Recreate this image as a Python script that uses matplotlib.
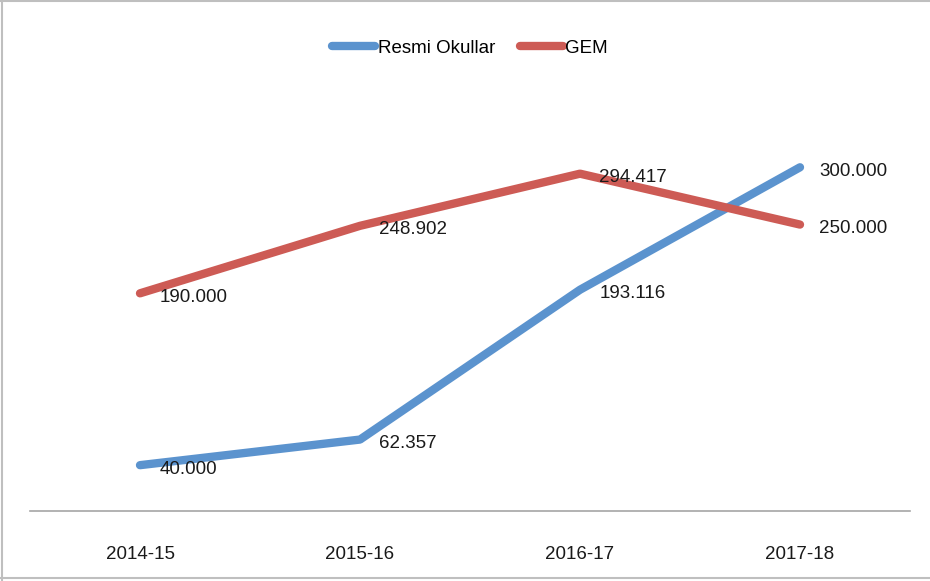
import matplotlib
matplotlib.use("Agg")
import matplotlib.pyplot as plt
from matplotlib import font_manager
from matplotlib.lines import Line2D

categories = ["2014-15", "2015-16", "2016-17", "2017-18"]
resmi = [40000, 62357, 193116, 300000]
gem = [190000, 248902, 294417, 250000]
resmi_labels = ["40.000", "62.357", "193.116", "300.000"]
gem_labels = ["190.000", "248.902", "294.417", "250.000"]

avail = {f.name for f in font_manager.fontManager.ttflist}
fam = "Liberation Sans Narrow" if "Liberation Sans Narrow" in avail else "Liberation Sans"
plt.rcParams['font.family'] = [fam, 'DejaVu Sans']
fs = 13.5

W, H = 930, 581
fig = plt.figure(figsize=(W / 100, H / 100), dpi=100)
ax = fig.add_axes([30 / W, (H - 511) / H, 880 / W, 401 / H])

blue = "#5B93CE"
red = "#CD5B55"
x = list(range(len(categories)))
ax.plot(x, resmi, color=blue, lw=6, solid_capstyle="round", solid_joinstyle="round", zorder=3)
ax.plot(x, gem, color=red, lw=6, solid_capstyle="round", solid_joinstyle="round", zorder=3)

for xi, v, t in zip(x, resmi, resmi_labels):
    ax.annotate(t, (xi, v), xytext=(14, -3), textcoords="offset points",
                ha="left", va="center", fontsize=fs, color="#1a1a1a", zorder=4)
for xi, v, t in zip(x, gem, gem_labels):
    ax.annotate(t, (xi, v), xytext=(14, -3), textcoords="offset points",
                ha="left", va="center", fontsize=fs, color="#1a1a1a", zorder=4)

ax.set_xlim(-0.5, len(categories) - 0.5)
ax.set_ylim(0, 350000)
ax.set_xticks(x)
ax.set_xticklabels(categories, fontsize=fs, color="#1a1a1a")
ax.tick_params(axis="x", length=0, pad=25)
ax.set_yticks([])
for s in ["top", "right", "left"]:
    ax.spines[s].set_visible(False)
ax.spines["bottom"].set_color("#A6A6A6")
ax.spines["bottom"].set_linewidth(1.2)

handles = [Line2D([], [], color=blue, lw=6, solid_capstyle="round"),
           Line2D([], [], color=red, lw=6, solid_capstyle="round")]
fig.legend(handles, ["Resmi Okullar", "GEM"], loc="center", bbox_to_anchor=(470 / W, 1 - 48 / H),
           ncol=2, frameon=False, fontsize=fs, handlelength=2.3, handletextpad=0.15,
           columnspacing=1.3)

# figure border
for (x0, y0, x1, y1) in [(2 / W, 0, 2 / W, 1), (0, 1 - 1 / H, 1, 1 - 1 / H), (0, 3 / H, 1, 3 / H)]:
    fig.add_artist(Line2D([x0, x1], [y0, y1], color="#BFBFBF", lw=1.5, transform=fig.transFigure))

fig.savefig("out.png", dpi=100, facecolor="white")
